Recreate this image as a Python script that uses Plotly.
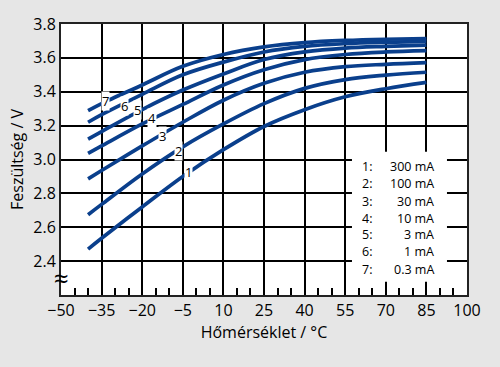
import plotly.graph_objects as go

# Data
temps = [-40, -35, -20, -5, 10, 25, 40, 55, 70, 85]
curve_ids = ["1", "2", "3", "4", "5", "6", "7"]
currents = ["300 mA", "100 mA", "30 mA", "10 mA", "3 mA", "1 mA", "0.3 mA"]
voltages = {
    "1": [2.471, 2.535, 2.72, 2.90, 3.058, 3.195, 3.294, 3.37, 3.418, 3.455],
    "2": [2.674, 2.735, 2.915, 3.075, 3.21, 3.33, 3.42, 3.472, 3.498, 3.515],
    "3": [2.886, 2.935, 3.08, 3.22, 3.35, 3.45, 3.515, 3.548, 3.562, 3.572],
    "4": [3.036, 3.08, 3.21, 3.325, 3.44, 3.53, 3.59, 3.62, 3.635, 3.643],
    "5": [3.12, 3.165, 3.295, 3.41, 3.505, 3.59, 3.635, 3.658, 3.668, 3.675],
    "6": [3.22, 3.265, 3.385, 3.50, 3.575, 3.635, 3.668, 3.684, 3.692, 3.697],
    "7": [3.288, 3.33, 3.44, 3.55, 3.62, 3.665, 3.69, 3.703, 3.71, 3.714],
}
# curve number label positions (temperature, voltage)
label_pos = {
    "1": (-3.0, 2.926), "2": (-6.7, 3.048), "3": (-12.5, 3.14),
    "4": (-16.5, 3.245), "5": (-21.7, 3.29), "6": (-26.6, 3.318), "7": (-33.4, 3.347),
}
x_ticks = [-50, -35, -20, -5, 10, 25, 40, 55, 70, 85, 100]
y_ticks = [2.4, 2.6, 2.8, 3.0, 3.2, 3.4, 3.6, 3.8]

BLUE = "#0a3f8c"
FONT = "Open Sans"

fig = go.Figure()
for cid in curve_ids:
    fig.add_trace(go.Scatter(
        x=temps, y=voltages[cid], mode="lines",
        line=dict(color=BLUE, width=3.7, shape="spline", smoothing=1.0),
        showlegend=False, hoverinfo="skip",
    ))

annotations = []
for cid in curve_ids:
    lx, ly = label_pos[cid]
    annotations.append(dict(
        x=lx, y=ly, xref="x", yref="y", text=cid, showarrow=False,
        font=dict(family=FONT, size=13, color="black"),
        bgcolor="white", borderpad=0,
    ))

# legend box text
legend_rows_y = [2.959, 2.857, 2.752, 2.654, 2.555, 2.455, 2.353]
for cid, cur, yy in zip(curve_ids, currents, legend_rows_y):
    annotations.append(dict(x=62.9, y=yy, xref="x", yref="y", text=cid + ":",
                            showarrow=False, xanchor="center",
                            font=dict(family=FONT, size=12.5, color="black")))
    annotations.append(dict(x=88.4, y=yy, xref="x", yref="y", text=cur,
                            showarrow=False, xanchor="right",
                            font=dict(family=FONT, size=12.5, color="black")))

# axis break symbol
annotations.append(dict(x=0, y=2.3, xref="paper", yref="y", text="≈",
                        showarrow=False, xanchor="center",
                        font=dict(family=FONT, size=26, color="black")))

fig.update_layout(
    width=500, height=367,
    margin=dict(l=61, r=33, t=24, b=72, autoexpand=False),
    paper_bgcolor="#e6e6e6", plot_bgcolor="white",
    font=dict(family=FONT, size=16, color="black"),
    annotations=annotations,
    shapes=[dict(type="rect", xref="x", yref="y", x0=57.5, x1=92.6, y0=2.278, y1=3.046,
                 fillcolor="white", line=dict(width=0), layer="between")],
)
fig.update_xaxes(
    range=[-50, 100], tickvals=x_ticks, showgrid=True, gridcolor="black", gridwidth=1.5,
    showline=True, linecolor="#222", linewidth=2, mirror=True, automargin=False,
    ticks="inside", ticklen=7, tickcolor="black", tickwidth=1.5,
    minor=dict(dtick=5, tick0=0, ticks="inside", ticklen=7, tickcolor="black", tickwidth=1.5, showgrid=False),
    zeroline=False, tickfont=dict(size=16),
    title=dict(text="Hőmérséklet / °C", font=dict(size=16), standoff=4),
)
fig.update_yaxes(
    range=[2.2, 3.8], tickvals=y_ticks, tickformat=".1f", showgrid=True, gridcolor="black", gridwidth=1.5,
    showline=True, linecolor="#222", linewidth=2, mirror=True, automargin=False,
    ticks="", zeroline=False, tickfont=dict(size=16),
    title=dict(text="Feszültség / V", font=dict(size=16), standoff=6),
)

fig.write_html("out.html", config={"displayModeBar": False},
               post_script="document.body.style.margin='0';document.body.style.background='#e6e6e6';")
